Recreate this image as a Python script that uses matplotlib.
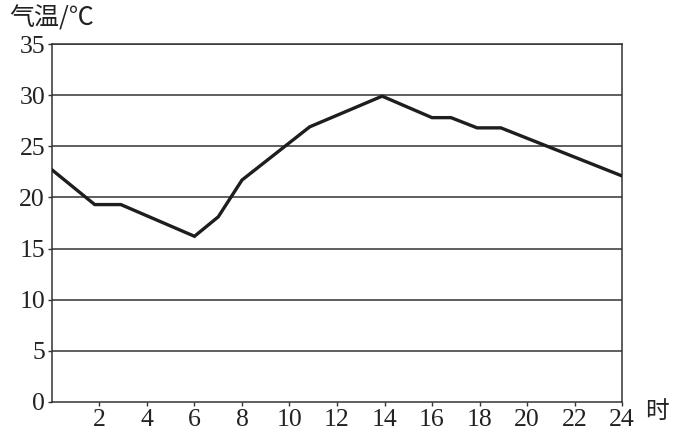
import matplotlib
matplotlib.use('Agg')
from matplotlib import pyplot as plt

# hour of day vs air temperature
hours = [0, 1.8, 2.9, 6.0, 7.0, 8.0, 10.85, 13.9, 16.0, 16.8, 17.9, 18.9, 24]
temps = [22.7, 19.3, 19.3, 16.2, 18.1, 21.7, 26.9, 29.9, 27.8, 27.8, 26.8, 26.8, 22.1]

x_ticks = [2, 4, 6, 8, 10, 12, 14, 16, 18, 20, 22, 24]
y_ticks = [0, 5, 10, 15, 20, 25, 30, 35]

plt.rcParams['font.family'] = ['Liberation Serif', 'Noto Sans CJK SC']

fig = plt.figure(figsize=(6.92, 4.40), dpi=100)
ax = fig.add_axes([0.0751, 0.0864, 0.8238, 0.8136])

for y in y_ticks[1:]:
    ax.axhline(y, color='#333333', linewidth=1.1, zorder=1)

ax.plot(hours, temps, color='#1e1e1e', linewidth=2.4, zorder=3, solid_joinstyle='miter')

ax.set_xlim(0, 24)
ax.set_ylim(0, 35)
ax.set_xticks(x_ticks)
ax.set_yticks(y_ticks)
ax.tick_params(axis='both', direction='out', length=3, width=1, color='#333333',
               labelsize=18.5, labelcolor='#222222', pad=2)
for s in ax.spines.values():
    s.set_color('#333333')
    s.set_linewidth(1.1)

fig.text(9 / 692, 1 - 19 / 440, '气温/℃', fontsize=18, color='#222222',
         family=['Noto Sans CJK SC', 'DejaVu Sans'], va='center', ha='left')
fig.text(645 / 692, 1 - 411 / 440, '时', fontsize=17, color='#222222',
         family=['Noto Sans CJK SC'], va='center', ha='left')

fig.savefig('out.png', dpi=100)
